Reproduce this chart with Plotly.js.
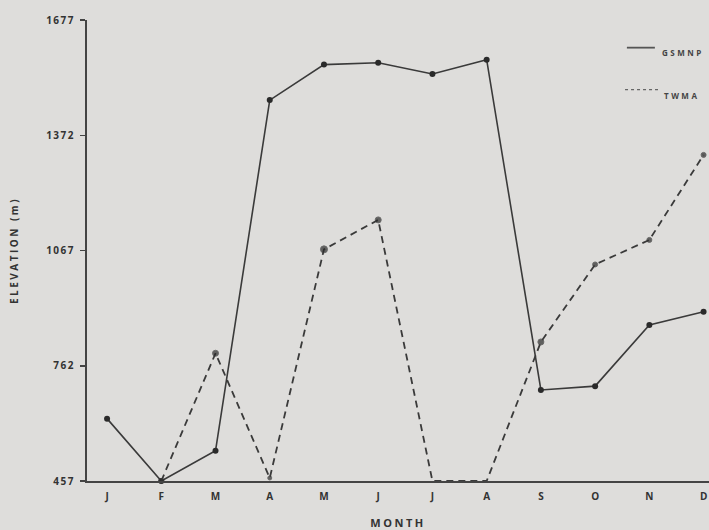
<!DOCTYPE html>
<html>
<head>
<meta charset="utf-8">
<script src="https://cdn.plot.ly/plotly-3.0.1.min.js"></script>
<style>
html,body{margin:0;padding:0;background:#dedddb;overflow:hidden;}
#chart{width:709px;height:530px;}
.ytitle,.xtitle{letter-spacing:2.5px;}
.ytick text{letter-spacing:1.5px;}
.annotation-text{letter-spacing:2.5px;}
</style>
</head>
<body>
<div id="chart"></div>
<script>
// Data (elevation in metres)
const monthIndex = [0,1,2,3,4,5,6,7,8,9,10,11];
const monthLabels = ["J","F","M","A","M","J","J","A","S","O","N","D"];
const gsmnpX = [0,1,2,3,4,5,6,7,8,9,10,11];
const gsmnpElev = [622,457,537,1465,1559,1564,1534,1572,698,708,870,905];
const twmaX = [1,2,3,4,5,6,7,8,9,10,11];
const twmaElev = [457,795,465,1070,1148,457,457,825,1030,1095,1320];
const twmaMarkerSize = [5,6,4,7,6,0,0,6,5,5,5];
const yTicks = [457,762,1067,1372,1677];
const seriesNames = ["GSMNP","TWMA"];

const ink = "#3a3a3a";
const traces = [
  {x: gsmnpX, y: gsmnpElev, name: seriesNames[0], type: "scatter", mode: "lines+markers",
   line: {color: ink, width: 1.6}, marker: {color: "#2a2a2a", size: 6}, cliponaxis: false},
  {x: twmaX, y: twmaElev, name: seriesNames[1], type: "scatter", mode: "lines+markers",
   line: {color: ink, width: 1.8, dash: "7px,5px"}, marker: {color: "#2a2a2a", size: twmaMarkerSize}, cliponaxis: false}
];

const layout = {
  width: 709, height: 530,
  paper_bgcolor: "#dedddb", plot_bgcolor: "rgba(0,0,0,0)",
  margin: {l: 87, r: 0, t: 20, b: 49},
  showlegend: false,
  font: {family: "Open Sans, DejaVu Sans, sans-serif", color: "#333"},
  xaxis: {
    range: [-0.37, 11.1], tickmode: "array", tickvals: monthIndex, ticktext: monthLabels,
    showgrid: false, zeroline: false, showline: true, linecolor: "#444", linewidth: 2,
    ticks: "", ticklabelstandoff: 5,
    tickfont: {size: 10, color: "#333", weight: "bold"},
    title: {text: "MONTH", standoff: 18, font: {size: 11, color: "#333", weight: "bold"}}
  },
  yaxis: {
    range: [457, 1677], tickmode: "array", tickvals: yTicks, ticktext: yTicks.map(String),
    showgrid: false, zeroline: false, showline: true, linecolor: "#444", linewidth: 2,
    ticks: "outside", ticklen: 5, tickwidth: 1.5, tickcolor: "#444", ticklabelstandoff: 3,
    tickfont: {size: 10, color: "#333", weight: "bold"},
    title: {text: "ELEVATION (m)", standoff: 26, font: {size: 10, color: "#333", weight: "bold"}}
  },
  shapes: [
    {type: "line", xref: "paper", yref: "paper", x0: 0.868, x1: 0.913, y0: 0.94, y1: 0.94,
     line: {color: "#555", width: 1.8}},
    {type: "line", xref: "paper", yref: "paper", x0: 0.865, x1: 0.918, y0: 0.849, y1: 0.849,
     line: {color: "#666", width: 1.2, dash: "3px,3px"}}
  ],
  annotations: [
    {xref: "paper", yref: "paper", x: 0.922, y: 0.930, xanchor: "left", yanchor: "middle",
     text: "GSMNP", showarrow: false, font: {size: 8, color: "#444", weight: "bold"}},
    {xref: "paper", yref: "paper", x: 0.925, y: 0.836, xanchor: "left", yanchor: "middle",
     text: "TWMA", showarrow: false, font: {size: 8, color: "#444", weight: "bold"}}
  ]
};

Plotly.newPlot("chart", traces, layout, {displayModeBar: false, staticPlot: true});
</script>
</body>
</html>
